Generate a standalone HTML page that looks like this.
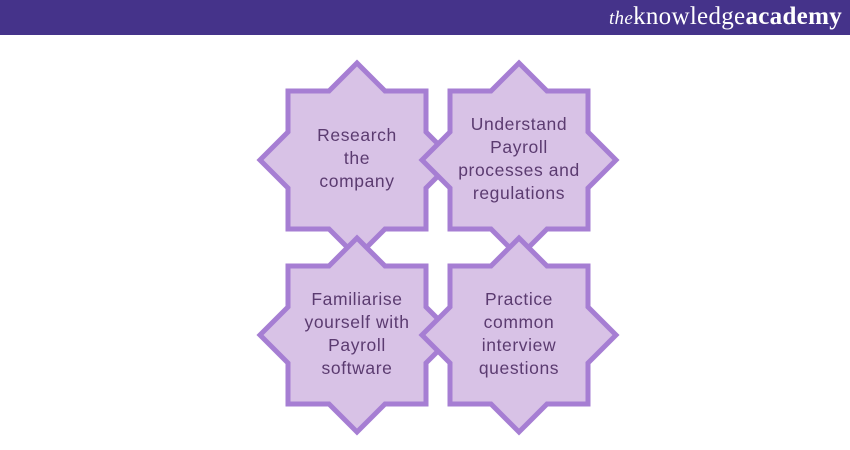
<!DOCTYPE html>
<html><head><style>
body{margin:0;width:850px;height:450px;background:#fff;overflow:hidden;font-family:"Liberation Sans",sans-serif}
.bar{position:absolute;left:0;top:0;width:850px;height:35px;background:#45338a}
.logo{position:absolute;right:8px;top:3px;color:#fff;font-family:"Liberation Serif",serif;font-size:25px;letter-spacing:0.3px}
.logo i{font-size:19px}
.t{position:absolute;width:170px;text-align:center;color:#5b3b70;font-size:17.5px;line-height:23px;letter-spacing:0.6px}
</style></head><body>
<div class="bar"></div>
<div class="logo"><i>the</i>knowledge<b>academy</b></div>
<svg width="850" height="450" style="position:absolute;left:0;top:0">
<defs><polygon id="s" points="0,-97 28,-69 69,-69 69,-28 97,0 69,28 69,69 28,69 0,97 -28,69 -69,69 -69,28 -97,0 -69,-28 -69,-69 -28,-69" fill="#d8c2e6" stroke="#a67ed3" stroke-width="5" stroke-linejoin="miter"/></defs>
<use href="#s" x="357" y="160"/>
<use href="#s" x="519" y="160"/>
<use href="#s" x="357" y="335"/>
<use href="#s" x="519" y="335"/>
</svg>
<div class="t" style="left:272px;top:124px">Research<br>the<br>company</div>
<div class="t" style="left:434px;top:113px">Understand<br>Payroll<br>processes and<br>regulations</div>
<div class="t" style="left:272px;top:288px">Familiarise<br>yourself with<br>Payroll<br>software</div>
<div class="t" style="left:434px;top:288px">Practice<br>common<br>interview<br>questions</div>
</body></html>
